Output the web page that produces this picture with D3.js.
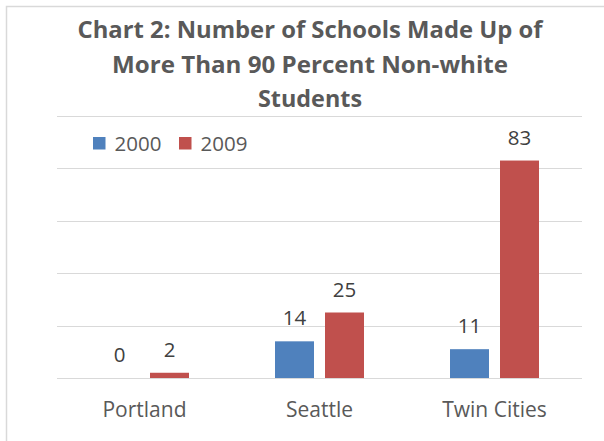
<!DOCTYPE html>
<html>
<head>
<meta charset="utf-8">
<script src="https://cdn.jsdelivr.net/npm/d3@7"></script>
<style>
  html, body { margin: 0; padding: 0; background: #fff; }
  svg { display: block; font-family: "Open Sans", sans-serif; }
</style>
</head>
<body>
<div id="chart"></div>
<script>
const cities = ["Portland", "Seattle", "Twin Cities"];
const seriesNames = ["2000", "2009"];
const values2000 = [0, 14, 11];
const values2009 = [2, 25, 83];
const yTicks = [0, 20, 40, 60, 80, 100];
const titleLines = ["Chart 2: Number of Schools Made Up of", "More Than 90 Percent Non-white", "Students"];

const width = 604, height = 441;
const colors = { "2000": "#4f81bd", "2009": "#c0504d" };

const rows = cities.map((c, i) => ({ city: c, "2000": values2000[i], "2009": values2009[i] }));

const svg = d3.select("#chart").append("svg")
    .attr("width", width)
    .attr("height", height);

svg.append("rect")
    .attr("x", 6.5).attr("y", 6.5)
    .attr("width", 700).attr("height", 600)
    .attr("fill", "#fff")
    .attr("stroke", "#d9d9d9")
    .attr("stroke-width", 1.5);

// title
const titleWidths = [465, 396, 104];
svg.selectAll(".title")
    .data(titleLines)
    .enter().append("text")
    .attr("class", "title")
    .attr("x", 310)
    .attr("y", (d, i) => 38 + i * 34.5)
    .attr("text-anchor", "middle")
    .style("font-size", "24px")
    .style("font-weight", "bold")
    .style("fill", "#595959")
    .text(d => d)
    .each(function (d, i) {
        const w = this.getComputedTextLength();
        if (Math.abs(w - titleWidths[i]) > 2) {
            d3.select(this).attr("textLength", titleWidths[i]).attr("lengthAdjust", "spacingAndGlyphs");
        }
    });

const x = d3.scaleBand().domain(cities).range([57, 582]);
const xInner = d3.scaleBand().domain(seriesNames).range([43, 132]).paddingInner(0.22);
const y = d3.scaleLinear().domain([0, 100]).range([378, 116]);

// gridlines
svg.append("g")
    .selectAll("line")
    .data(yTicks)
    .enter().append("line")
    .attr("x1", 57).attr("x2", 582)
    .attr("y1", d => Math.round(y(d)) + 0.5)
    .attr("y2", d => Math.round(y(d)) + 0.5)
    .attr("stroke", "#d9d9d9")
    .attr("stroke-width", 1);

// bars
const groups = svg.selectAll(".group")
    .data(rows)
    .enter().append("g")
    .attr("class", "group")
    .attr("transform", d => `translate(${x(d.city)},0)`);

groups.selectAll("rect")
    .data(d => seriesNames.map(s => ({ key: s, value: d[s] })))
    .enter().append("rect")
    .attr("x", d => xInner(d.key))
    .attr("y", d => y(d.value))
    .attr("width", xInner.bandwidth())
    .attr("height", d => y(0) - y(d.value))
    .attr("fill", d => colors[d.key]);

groups.selectAll(".val")
    .data(d => seriesNames.map(s => ({ key: s, value: d[s] })))
    .enter().append("text")
    .attr("class", "val")
    .attr("x", d => xInner(d.key) + xInner.bandwidth() / 2)
    .attr("y", d => y(d.value) - 16)
    .attr("text-anchor", "middle")
    .style("font-size", "20.5px")
    .style("fill", "#404040")
    .text(d => d.value);

// category axis labels
const xAxis = svg.append("g")
    .attr("transform", `translate(0,${y(0)})`)
    .call(d3.axisBottom(x).tickSize(0).tickPadding(24));
xAxis.select(".domain").remove();
xAxis.selectAll("text")
    .attr("dy", "0.71em")
    .style("font-family", "'Open Sans', sans-serif")
    .style("font-size", "21px")
    .style("fill", "#595959");

// legend
const legend = svg.selectAll(".legend")
    .data(seriesNames)
    .enter().append("g")
    .attr("class", "legend")
    .attr("transform", (d, i) => `translate(${93 + i * 86},137)`);

legend.append("rect")
    .attr("width", 12.5)
    .attr("height", 12.5)
    .attr("fill", d => colors[d]);

legend.append("text")
    .attr("x", 21.5)
    .attr("y", 13.5)
    .style("font-size", "20.5px")
    .style("fill", "#595959")
    .text(d => d);
</script>
</body>
</html>
